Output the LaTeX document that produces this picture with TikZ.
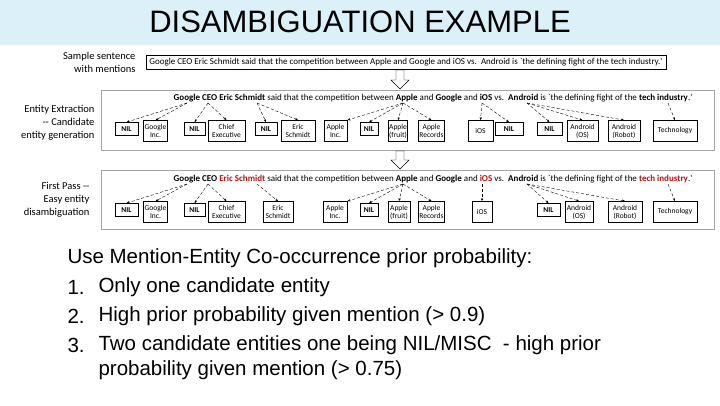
\documentclass[tikz,border=0pt]{standalone}
\usepackage{fontspec}
\setmainfont{Liberation Sans}
\newfontfamily\calib{Carlito}
\usetikzlibrary{arrows.meta}
\definecolor{band}{RGB}{220,240,250}
\definecolor{redword}{RGB}{180,20,20}
\tikzset{
  cand/.style={draw,thick,fill=white,font=\calib\fontsize{7.5}{8}\selectfont,align=center,inner sep=1pt,minimum height=21pt},
  nilbox/.style={cand,minimum height=13pt,font=\calib\bfseries\fontsize{7.5}{8}\selectfont},
  panel/.style={draw=gray!70,thick,fill=white},
  link/.style={densely dashed,-{Stealth[length=3pt]},thin},
  hollow/.style={draw,thin,fill=white}
}
\begin{document}
\begin{tikzpicture}[x=1pt,y=-1pt]
    \useasboundingbox (0,0) rectangle (720,405);
    \fill[band] (0,0) rectangle (720,45);
    \node[font=\fontsize{31}{33}\selectfont] (title) at (360,22) {DISAMBIGUATION EXAMPLE};

    % left hand labels
    \node[align=right,anchor=east,font=\calib\fontsize{10.5}{13}\selectfont] (lab1) at (139,62) {Sample sentence\\with mentions};
    \node[align=right,anchor=east,font=\calib\fontsize{10.5}{13}\selectfont] (lab2) at (98,123) {Entity Extraction\\-- Candidate\\entity generation};
    \node[align=right,anchor=east,font=\calib\fontsize{10.5}{13}\selectfont] (lab3) at (93,200) {First Pass --\\Easy entity\\disambiguation};

    % sentence and panels
    \node[draw,thick,minimum width=520pt,minimum height=14pt,inner sep=1pt,font=\calib\fontsize{9}{9}\selectfont] (sent) at (406,62)
      {Google CEO Eric Schmidt said that the competition between Apple and Google and iOS vs.\ \ Android is `the defining fight of the tech industry.'};
    \draw[panel] (101,90) rectangle (714,150);
    \draw[panel] (101,170) rectangle (714,229);
    \node[font=\calib\fontsize{9}{9}\selectfont] (s2) at (433,98)
      {\textbf{Google CEO Eric Schmidt} said that the competition between \textbf{Apple} and \textbf{Google} and \textbf{iOS} vs.\ \ \textbf{Android} is `the defining fight of the \textbf{tech industry}.'};
    \node[font=\calib\fontsize{9}{9}\selectfont] (s3) at (433,179)
      {\textbf{Google CEO \textcolor{redword}{Eric Schmidt}} said that the competition between \textbf{Apple} and \textbf{Google} and \textbf{\textcolor{redword}{iOS}} vs.\ \ \textbf{Android} is `the defining fight of the \textbf{\textcolor{redword}{tech industry}}.'};
    \draw[hollow] (396,70) -- (404,70) -- (404,80) -- (409,80) -- (400,89) -- (391,80) -- (396,80) -- cycle;
    \draw[hollow] (396,151) -- (404,151) -- (404,160) -- (409,160) -- (400,169) -- (391,160) -- (396,160) -- cycle;

    % candidate boxes
    \foreach \n/\xa/\xb/\t in {nila/115/138/NIL,nilb/184/205/NIL,nilc/255/277/NIL,nild/360/378/NIL,nile/495/523/NIL,nilf/537/562/NIL}
      \node[nilbox,minimum width=\xb-\xa] (p2-\n) at ({(\xa+\xb)/2},129) {\t};
    \foreach \n/\xa/\xb/\t in {goog/144/167/Google\\Inc.,chief/208/245/Chief\\Executive,eric/281/315/Eric\\Schmidt,
        applei/324/347/Apple\\Inc.,applef/389/407/Apple\\(fruit),appler/421/442/Apple\\Records,ios/468/493/iOS,
        andos/567/598/Android\\(OS),andro/608/640/Android\\(Robot),tech/653/697/Technology}
      \node[cand,minimum width=\xb-\xa] (p2-\n) at ({(\xa+\xb)/2},131) {\t};
    \foreach \n/\xa/\xb/\t in {nila/115/138/NIL,nilb/184/205/NIL,nild/360/378/NIL,nilf/537/560/NIL}
      \node[nilbox,minimum width=\xb-\xa] (p3-\n) at ({(\xa+\xb)/2},210) {\t};
    \foreach \n/\xa/\xb/\t in {goog/144/167/Google\\Inc.,chief/208/245/Chief\\Executive,eric/263/293/Eric\\Schmidt,
        applei/323/347/Apple\\Inc.,applef/388/410/Apple\\(fruit),appler/421/442/Apple\\Records,ios/472/492/iOS,
        andos/565/593/Android\\(OS),andro/608/642/Android\\(Robot),tech/653/697/Technology}
      \node[cand,minimum width=\xb-\xa] (p3-\n) at ({(\xa+\xb)/2},212) {\t};

    % mention anchors and links
    \foreach \p/\y in {2/103,3/184} {
      \coordinate (w\p goog) at (187,\y);
      \coordinate (w\p ceo) at (208,\y);
      \coordinate (w\p eric) at (257,\y);
      \coordinate (w\p apple) at (403,\y);
      \coordinate (w\p ios) at (482,\y);
      \coordinate (w\p and) at (527,\y);
      \coordinate (w\p tech) at (668,\y);
      \draw[link] (w\p goog) -- (p\p-nila.north);
      \draw[link] (w\p goog) -- (p\p-goog.north);
      \draw[link] (w\p ceo) -- (p\p-nilb.north);
      \draw[link] (w\p ceo) -- (p\p-chief.north);
      \draw[link] (w\p eric) -- (p\p-eric.north);
      \draw[link] (w\p apple) -- (p\p-applei.north east);
      \draw[link] (w\p apple) -- (p\p-nild.north);
      \draw[link] (w\p apple) -- (p\p-applef.north);
      \draw[link] (w\p apple) -- (p\p-appler.north);
      \draw[link] (w\p ios) -- (p\p-ios.north);
      \draw[link] (w\p and) -- (p\p-nilf.north);
      \draw[link] (w\p and) -- (p\p-andos.north);
      \draw[link] (w\p and) -- (p\p-andro.north);
      \draw[link] (w\p tech) -- (p\p-tech.north);
    }
    \draw[link] (w2eric) -- (p2-nilc.north);
    \draw[link] (w2ios) -- (p2-nile.north);

    % rules
    \node[anchor=west,font=\fontsize{20.5}{22}\selectfont] (rule0) at (64,258) {Use Mention-Entity Co-occurrence prior probability:};
    \foreach \i/\y/\t in {1/287/Only one candidate entity,2/316/High prior probability given mention (> 0.9),
        3/345/{Two candidate entities one being NIL/MISC\ \ - high prior}} {
      \node[anchor=west,font=\fontsize{20.5}{22}\selectfont] (num\i) at (64,\y) {\i.};
      \node[anchor=west,font=\fontsize{20.5}{22}\selectfont] (rule\i) at (95,\y) {\t};
    }
    \node[anchor=west,font=\fontsize{20.5}{22}\selectfont] (rule3b) at (95,370) {probability given mention (> 0.75)};
\end{tikzpicture}
\end{document}
